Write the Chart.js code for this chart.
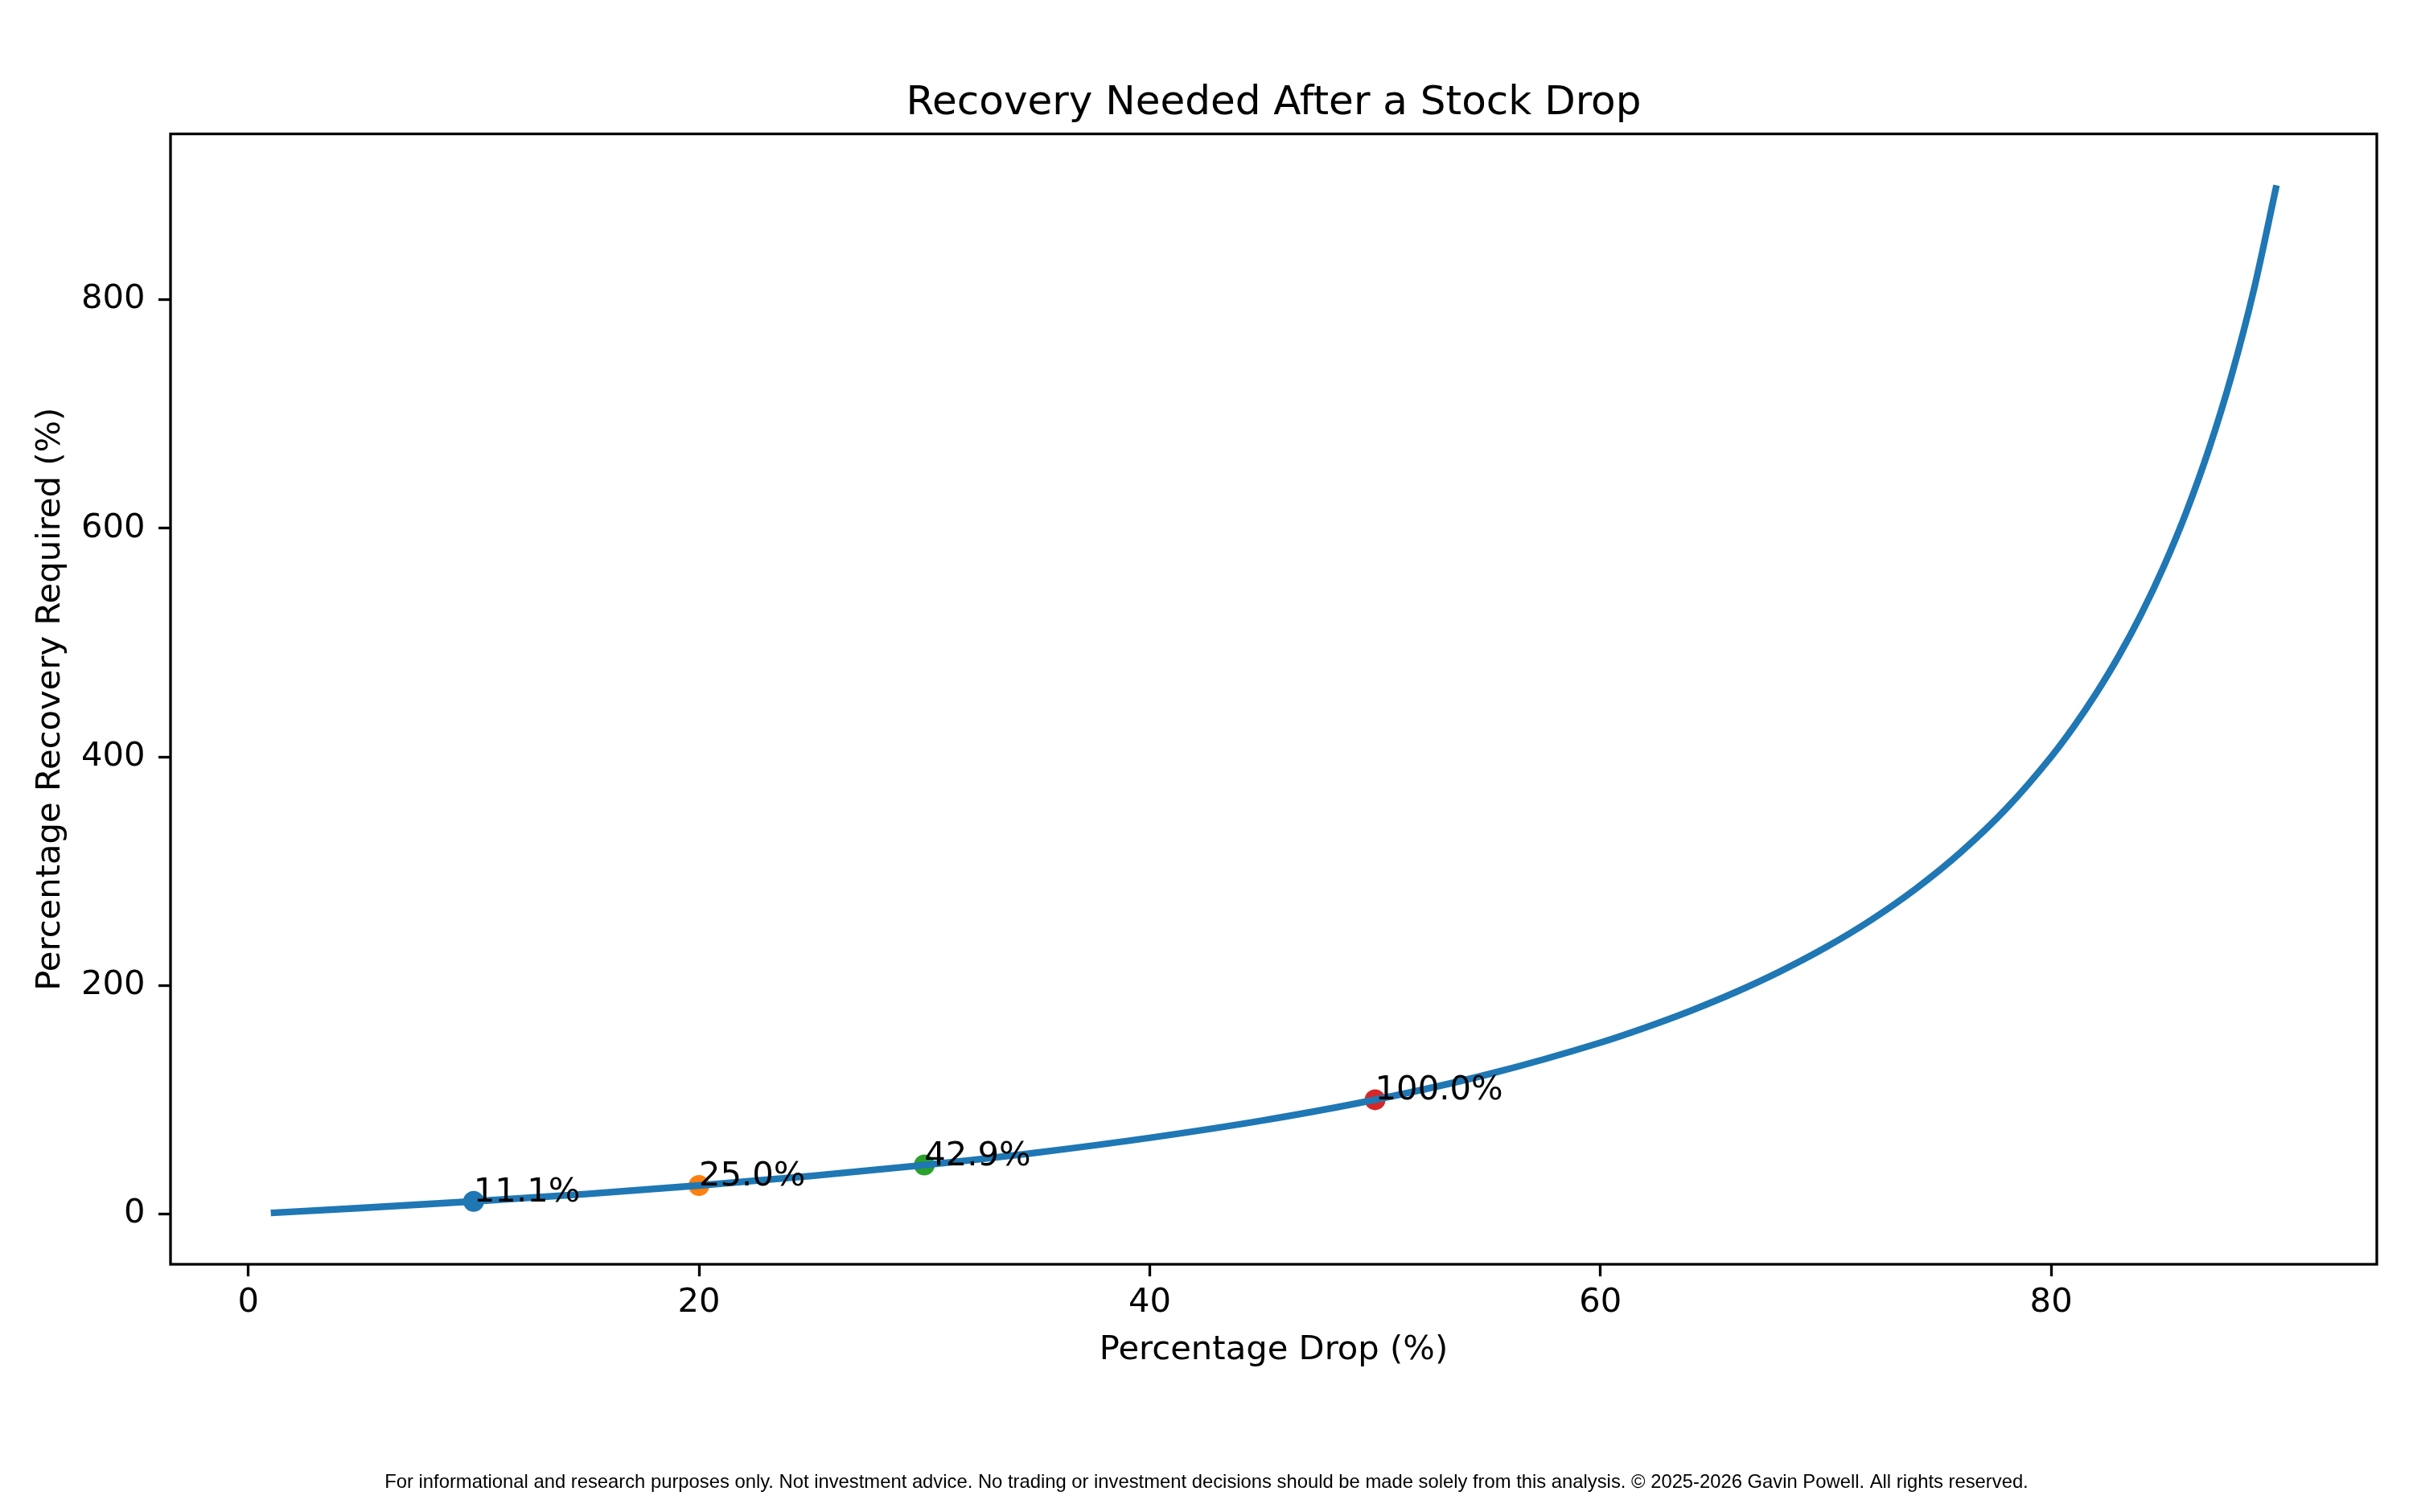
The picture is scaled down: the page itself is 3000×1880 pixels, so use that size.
<!DOCTYPE html>
<html>
<head>
<meta charset="utf-8">
<title>Recovery Needed After a Stock Drop</title>
<script src="https://cdn.jsdelivr.net/npm/chart.js@4.4.1/dist/chart.umd.min.js"></script>
<style>
  html, body { margin: 0; padding: 0; background: #fff; }
  canvas { display: block; }
</style>
</head>
<body>
<canvas id="recovery-chart" width="3000" height="1880"></canvas>
<script>
// values (drop % -> recovery % needed to get back)
var drops    = [1, 5, 10, 15, 20, 25, 30, 35, 40, 45, 50, 55, 60, 62, 64, 66, 68, 70, 72, 74, 76, 78, 80, 81, 82, 83, 84, 85, 86, 87, 88, 89, 90];
var recovery = [1.0, 5.3, 11.1, 17.6, 25.0, 33.3, 42.9, 53.8, 66.7, 81.8, 100.0, 122.2, 150.0, 163.2, 177.8, 194.1, 212.5, 233.3, 257.1, 284.6, 316.7, 354.5, 400.0, 426.3, 455.6, 488.2, 525.0, 566.7, 614.3, 669.2, 733.3, 809.1, 900.0];

// highlighted points
var markDrops    = [10, 20, 30, 50];
var markRecovery = [11.1, 25.0, 42.9, 100.0];
var markLabels   = ["11.1%", "25.0%", "42.9%", "100.0%"];
var markColors   = ["#1f77b4", "#ff7f0e", "#2ca02c", "#d62728"];

// axis ticks
var xTicks = [0, 20, 40, 60, 80];
var yTicks = [0, 200, 400, 600, 800];

var titleText = "Recovery Needed After a Stock Drop";
var footerText = "For informational and research purposes only. Not investment advice. No trading or investment decisions should be made solely from this analysis. \u00a9 2025-2026 Gavin Powell. All rights reserved.";

Chart.defaults.font.family = "'DejaVu Sans', sans-serif";
Chart.defaults.color = "#000";

var LW = 3.3; // spine / tick width

// box round the plot area (top and right spines too)
var frame = {
  id: 'frame',
  afterDraw: function(chart) {
    var a = chart.chartArea, ctx = chart.ctx;
    ctx.save();
    ctx.strokeStyle = '#000';
    ctx.lineWidth = LW;
    ctx.strokeRect(a.left, a.top, a.right - a.left, a.bottom - a.top);
    ctx.restore();
  }
};

// title centred over the plot area, not the whole canvas
var plotTitle = {
  id: 'plotTitle',
  afterDraw: function(chart) {
    var a = chart.chartArea, ctx = chart.ctx;
    ctx.save();
    ctx.font = "50px 'DejaVu Sans'";
    ctx.fillStyle = '#000';
    ctx.textAlign = 'center';
    ctx.textBaseline = 'alphabetic';
    ctx.fillText(titleText, (a.left + a.right) / 2, a.top - 25);
    ctx.restore();
  }
};

// value labels next to the marked points
var pointLabels = {
  id: 'pointLabels',
  afterDatasetsDraw: function(chart) {
    var ctx = chart.ctx, xs = chart.scales.x, ys = chart.scales.y;
    ctx.save();
    ctx.font = "41.7px 'DejaVu Sans'";
    ctx.fillStyle = '#000';
    ctx.textAlign = 'left';
    ctx.textBaseline = 'alphabetic';
    for (var i = 0; i < markLabels.length; i++) {
      ctx.fillText(markLabels[i], xs.getPixelForValue(markDrops[i]), ys.getPixelForValue(markRecovery[i]));
    }
    ctx.restore();
  }
};

// disclaimer line at the bottom of the figure
var footer = {
  id: 'footer',
  afterDraw: function(chart) {
    var ctx = chart.ctx;
    ctx.save();
    ctx.font = "23.8px 'Liberation Sans', Arial, sans-serif";
    ctx.fillStyle = '#000';
    ctx.textAlign = 'center';
    ctx.textBaseline = 'alphabetic';
    ctx.fillText(footerText, 1500, 1850);
    ctx.restore();
  }
};

new Chart(document.getElementById("recovery-chart"), {
  type: 'line',
  data: {
    datasets: [
      {
        label: 'Recovery',
        data: drops.map(function(d, i) { return {x: d, y: recovery[i]}; }),
        borderColor: '#1f77b4',
        borderWidth: 8.3,
        pointRadius: 0,
        fill: false,
        cubicInterpolationMode: 'monotone',
        order: 0
      },
      {
        type: 'scatter',
        label: 'Marked',
        data: markDrops.map(function(d, i) { return {x: d, y: markRecovery[i]}; }),
        backgroundColor: markColors,
        borderWidth: 0,
        pointRadius: 13,
        order: 1
      }
    ]
  },
  options: {
    responsive: false,
    devicePixelRatio: 1,
    animation: false,
    layout: { padding: { left: 0, right: 45, top: 166.5, bottom: 0 } },
    plugins: {
      legend: { display: false },
      tooltip: { enabled: false },
      title: { display: false }
    },
    scales: {
      x: {
        type: 'linear',
        min: -3.45,
        max: 94.45,
        afterBuildTicks: function(scale) {
          scale.ticks = xTicks.map(function(v) { return {value: v}; });
        },
        afterFit: function(scale) { scale.height = 308; },
        grid: { drawOnChartArea: false, drawTicks: true, tickLength: 15, tickColor: '#000', tickWidth: LW },
        border: { display: false },
        ticks: { font: { size: 41.7 }, padding: 8.5, maxRotation: 0, autoSkip: false, color: '#000' },
        title: { display: true, text: 'Percentage Drop (%)', font: { size: 41.7 }, padding: { top: 0, bottom: 175.5 }, color: '#000' }
      },
      y: {
        type: 'linear',
        min: -43.95,
        max: 944.95,
        afterBuildTicks: function(scale) {
          scale.ticks = yTicks.map(function(v) { return {value: v}; });
        },
        afterFit: function(scale) { scale.width = 212; },
        grid: { drawOnChartArea: false, drawTicks: true, tickLength: 15, tickColor: '#000', tickWidth: LW },
        border: { display: false },
        ticks: { font: { size: 41.7 }, padding: 16.5, autoSkip: false, color: '#000' },
        title: { display: true, text: 'Percentage Recovery Required (%)', font: { size: 41.7 }, padding: { top: 38, bottom: 0 }, color: '#000' }
      }
    }
  },
  plugins: [frame, plotTitle, pointLabels, footer]
});
</script>
</body>
</html>
